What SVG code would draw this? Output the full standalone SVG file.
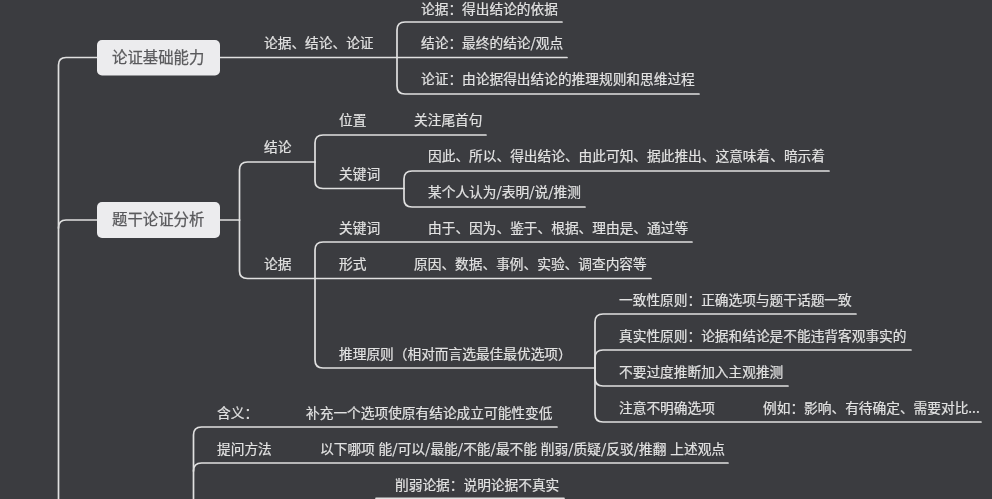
<svg xmlns="http://www.w3.org/2000/svg" width="992" height="499" viewBox="0 0 992 499">
<style>
text{font-family:"Noto Sans CJK SC","Noto Sans",sans-serif;font-size:13.7px;fill:#e2e2e2;stroke:#e2e2e2;stroke-width:.2}
.main text{font-size:15.4px;fill:#5a5a5c;stroke:#5a5a5c;stroke-width:.25}
.main rect{fill:#ececee}
#connectors path{fill:none;stroke:#e0e0e0;stroke-width:1.7;stroke-linecap:round}
</style>
<defs><filter id="soft" x="-2%" y="-2%" width="104%" height="104%"><feGaussianBlur stdDeviation="0.35"/></filter></defs>
<rect width="992" height="499" fill="#3b3c40"/>
<g filter="url(#soft)">
<g id="connectors">
<path d="M97 57.5H66Q58.500 57.500 58.500 65V499"/>
<path d="M97 220H66Q58.500 220 58.500 228"/>
<path d="M220 57.500H567"/>
<path d="M397 57.500V30Q397 22 405 22H562"/>
<path d="M397 57.500V86Q397 94 405 94H699"/>
<path d="M220 220H239.500"/>
<path d="M239.500 220V170Q239.500 162 247.500 162H315"/>
<path d="M239.500 220V271Q239.500 278.500 247.500 278.500H651"/>
<path d="M315 162V143Q315 135 323 135H486"/>
<path d="M315 162V181Q315 188.500 323 188.500H404"/>
<path d="M404 188.500V179Q404 171 412 171H829"/>
<path d="M404 188.500V199Q404 207 412 207H585"/>
<path d="M315 278.500V250Q315 242 323 242H692"/>
<path d="M315 278.500V360Q315 368 323 368H595"/>
<path d="M595 368V322Q595 314 603 314H856"/>
<path d="M595 368V358Q595 350 603 350H911"/>
<path d="M595 368V378Q595 386 603 386H788"/>
<path d="M595 368V414Q595 422 603 422H981"/>
<path d="M193.500 499V435Q193.500 427 201.500 427H557"/>
<path d="M193.500 471Q193.500 463 201.500 463H728"/>
<path d="M376 498.300H564"/>
</g>
<g id="node-jichu" class="main"><rect x="97" y="40" width="123" height="35.500" rx="5"/><text x="112" y="63">论证基础能力</text></g>
<g id="node-tigan" class="main"><rect x="97" y="202" width="123" height="36" rx="5"/><text x="112" y="225">题干论证分析</text></g>
<g id="n1"><text x="264" y="48">论据、结论、论证</text></g>
<g id="n2"><text x="421" y="13.600">论据：得出结论的依据</text></g>
<g id="n3"><text x="421" y="48">结论：最终的结论/观点</text></g>
<g id="n4"><text x="421" y="84">论证：由论据得出结论的推理规则和思维过程</text></g>
<g id="n5"><text x="339" y="125">位置</text></g>
<g id="n6"><text x="414" y="125">关注尾首句</text></g>
<g id="n7"><text x="264" y="152">结论</text></g>
<g id="n8"><text x="428" y="161">因此、所以、得出结论、由此可知、据此推出、这意味着、暗示着</text></g>
<g id="n9"><text x="339" y="179">关键词</text></g>
<g id="n10"><text x="428" y="197">某个人认为/表明/说/推测</text></g>
<g id="n11"><text x="339" y="233">关键词</text></g>
<g id="n12"><text x="428" y="233">由于、因为、鉴于、根据、理由是、通过等</text></g>
<g id="n13"><text x="264" y="269">论据</text></g>
<g id="n14"><text x="339" y="269">形式</text></g>
<g id="n15"><text x="414" y="269">原因、数据、事例、实验、调查内容等</text></g>
<g id="n16"><text x="339" y="359">推理原则（相对而言选最佳最优选项）</text></g>
<g id="n17"><text x="619" y="305">一致性原则：正确选项与题干话题一致</text></g>
<g id="n18"><text x="619" y="341">真实性原则：论据和结论是不能违背客观事实的</text></g>
<g id="n19"><text x="619" y="377">不要过度推断加入主观推测</text></g>
<g id="n20"><text x="619" y="413">注意不明确选项</text></g>
<g id="n21"><text x="763" y="413">例如：影响、有待确定、需要对比...</text></g>
<g id="n22"><text x="217" y="418">含义：</text></g>
<g id="n23"><text x="306" y="418">补充一个选项使原有结论成立可能性变低</text></g>
<g id="n24"><text x="217" y="454">提问方法</text></g>
<g id="n25"><text x="320" y="454" word-spacing="0.8">以下哪项 能/可以/最能/不能/最不能 削弱/质疑/反驳/推翻 上述观点</text></g>
<g id="n26"><text x="395" y="490">削弱论据：说明论据不真实</text></g>
</g>
</svg>
